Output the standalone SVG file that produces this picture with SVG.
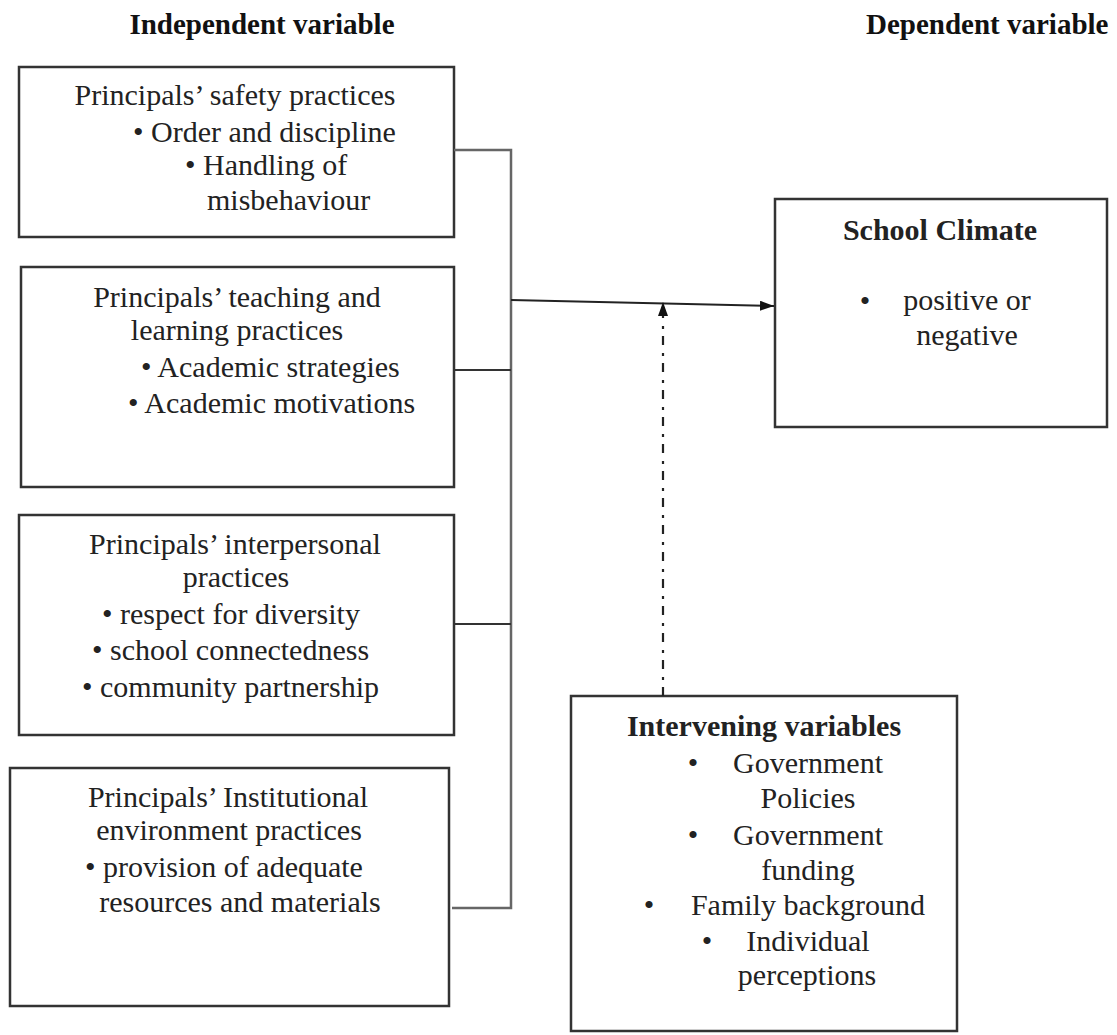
<svg xmlns="http://www.w3.org/2000/svg" width="1117" height="1035" viewBox="0 0 1117 1035">
<style>
.box{fill:#fff;stroke:#333;stroke-width:2.5}
text{font-family:"Liberation Serif","Times New Roman",serif;font-size:30px;fill:#222}
.b{font-weight:bold}
.m{text-anchor:middle}
.h{font-size:29px;font-weight:bold;fill:#111}
.con{fill:none;stroke:#666;stroke-width:2.5}
</style>
<defs>
<marker id="ah" viewBox="0 0 14 10" refX="14" refY="5" markerWidth="14" markerHeight="10" markerUnits="userSpaceOnUse" orient="auto">
<path d="M0,0 L14,5 L0,10 Z" fill="#111"/>
</marker>
</defs>
<rect width="1117" height="1035" fill="#fff"/>
<text class="h m" x="262" y="34">Independent variable</text>
<text class="h" x="866" y="34">Dependent variable</text>

<g id="safety">
<rect class="box" x="19" y="67" width="435" height="170"/>
<text class="m" x="235" y="105">Principals’ safety practices</text>
<text x="133" y="142">• Order and discipline</text>
<text x="185" y="175">• Handling of</text>
<text x="207" y="210">misbehaviour</text>
</g>

<g id="teaching">
<rect class="box" x="21" y="267" width="433" height="220"/>
<text class="m" x="237" y="307">Principals’ teaching and</text>
<text class="m" x="237" y="340">learning practices</text>
<text x="141" y="377">• Academic strategies</text>
<text x="128" y="413">• Academic motivations</text>
</g>

<g id="interpersonal">
<rect class="box" x="19" y="515" width="435" height="220"/>
<text class="m" x="235" y="554">Principals’ interpersonal</text>
<text class="m" x="236" y="587">practices</text>
<text x="102" y="624">• respect for diversity</text>
<text x="92" y="660">• school connectedness</text>
<text x="82" y="697">• community partnership</text>
</g>

<g id="institutional">
<rect class="box" x="10" y="768" width="439" height="238"/>
<text class="m" x="228" y="807">Principals’ Institutional</text>
<text class="m" x="229" y="840">environment practices</text>
<text x="85" y="877">• provision of adequate</text>
<text class="m" x="240" y="912">resources and materials</text>
</g>

<g id="climate">
<rect class="box" x="775" y="199" width="332" height="228"/>
<text class="b m" x="940" y="240">School Climate</text>
<text class="m" x="865" y="311">•</text>
<text class="m" x="967" y="310">positive or</text>
<text class="m" x="967" y="345">negative</text>
</g>

<g id="intervening">
<rect class="box" x="571" y="696" width="386" height="335"/>
<text class="b m" x="764" y="736">Intervening variables</text>
<text class="m" x="693" y="773">•</text>
<text class="m" x="808" y="773">Government</text>
<text class="m" x="808" y="808">Policies</text>
<text class="m" x="693" y="845">•</text>
<text class="m" x="808" y="845">Government</text>
<text class="m" x="808" y="880">funding</text>
<text class="m" x="649" y="915">•</text>
<text class="m" x="808" y="915">Family background</text>
<text class="m" x="707" y="951">•</text>
<text class="m" x="808" y="951">Individual</text>
<text class="m" x="807" y="985">perceptions</text>
</g>

<g id="connectors">
<path class="con" d="M454,150 H511 V908 H452"/>
<path d="M454,370 H511 M454,624 H511" fill="none" stroke="#333" stroke-width="2"/>
<line x1="511" y1="300" x2="774" y2="306" stroke="#222" stroke-width="2" marker-end="url(#ah)"/>
<line x1="663" y1="696" x2="663" y2="302" stroke="#222" stroke-width="2.2" stroke-dasharray="9 7 3 8" marker-end="url(#ah)"/>
</g>
</svg>
